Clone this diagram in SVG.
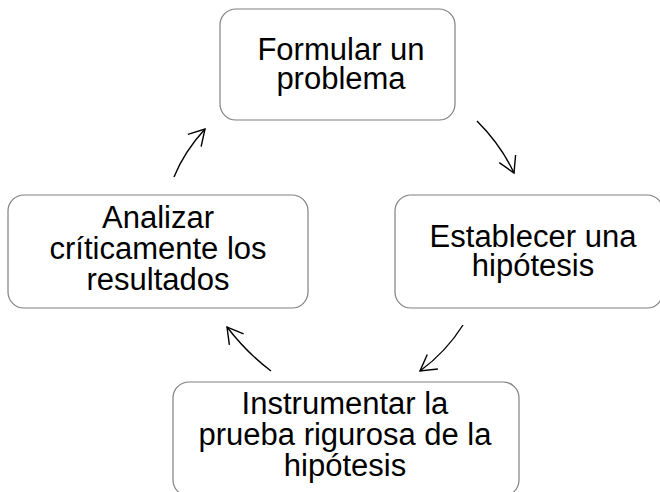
<svg xmlns="http://www.w3.org/2000/svg" width="660" height="492" viewBox="0 0 660 492">
  <style>
    .box { fill: #ffffff; stroke: #808080; stroke-width: 1.2; }
    .lbl { font-family: "Liberation Sans", Arial, sans-serif; font-size: 31px; fill: #000000; text-anchor: middle; }
    .arrow { fill: none; stroke: #000000; stroke-width: 1.4; marker-end: url(#head); }
  </style>
  <defs>
    <marker id="head" markerUnits="userSpaceOnUse" markerWidth="40" markerHeight="40" refX="0" refY="0" viewBox="-20 -20 40 40" orient="auto" overflow="visible">
      <path d="M -15.6 -9 L 0 0 L -15.6 9" fill="none" stroke="#000000" stroke-width="1.4" stroke-linejoin="miter"/>
    </marker>
  </defs>
  <rect width="660" height="492" fill="#ffffff"/>

  <g id="node-formular">
    <rect class="box" x="220" y="9" width="235" height="111" rx="16" ry="16"/>
    <text class="lbl" x="341" y="59.5">Formular un</text>
    <text class="lbl" x="341" y="89">problema</text>
  </g>

  <g id="node-hipotesis">
    <rect class="box" x="395" y="195" width="268" height="113" rx="16" ry="16"/>
    <text class="lbl" x="533" y="247">Establecer una</text>
    <text class="lbl" x="533" y="276">hipótesis</text>
  </g>

  <g id="node-prueba">
    <rect class="box" x="173" y="382" width="346" height="114" rx="16" ry="16"/>
    <text class="lbl" x="345" y="414">Instrumentar la</text>
    <text class="lbl" x="345" y="445">prueba rigurosa de la</text>
    <text class="lbl" x="345" y="476">hipótesis</text>
  </g>

  <g id="node-analizar">
    <rect class="box" x="8" y="195" width="300" height="113" rx="16" ry="16"/>
    <text class="lbl" x="158" y="228">Analizar</text>
    <text class="lbl" x="158" y="259">críticamente los</text>
    <text class="lbl" x="158" y="290">resultados</text>
  </g>

  <g id="connectors">
    <path class="arrow" d="M 477 121 Q 501 145 514 173"/>
    <path class="arrow" d="M 463 325 Q 446 352 420 371"/>
    <path class="arrow" d="M 271 371 Q 247 353 227 327"/>
    <path class="arrow" d="M 174 177 Q 184 152 205 129"/>
  </g>
</svg>
